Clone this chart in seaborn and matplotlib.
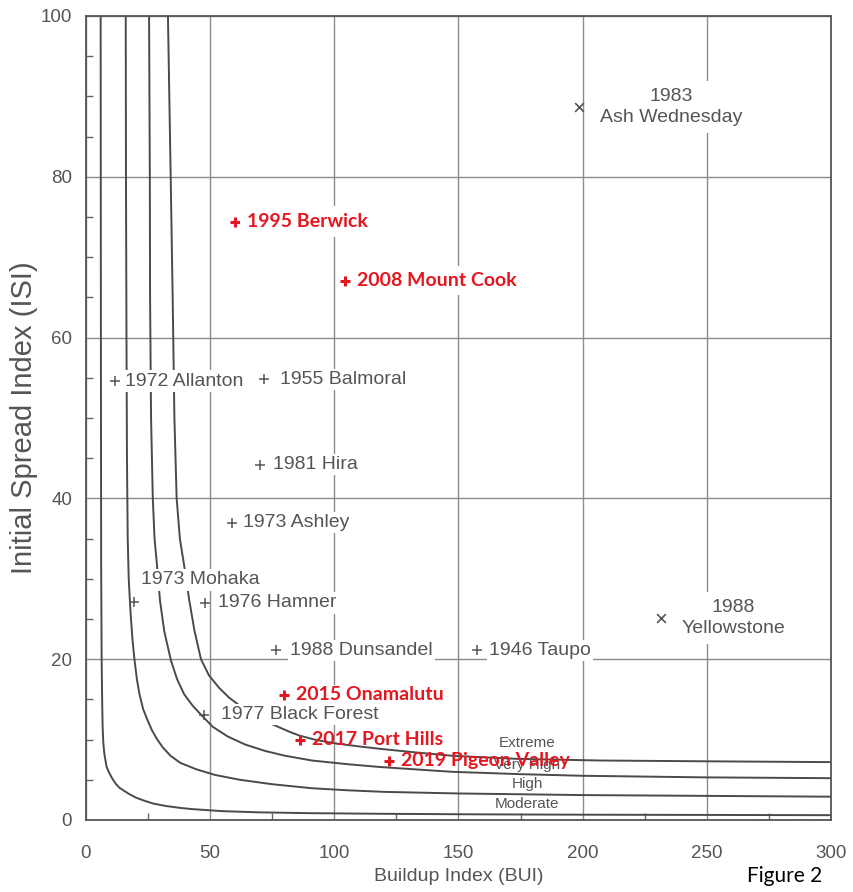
import numpy as np
import pandas as pd
import matplotlib
matplotlib.use("Agg")
import matplotlib.pyplot as plt
import seaborn as sns

# settings
sns.set_theme(style="white")
plt.rcParams['font.family'] = ['Liberation Sans', 'DejaVu Sans']

# class boundary curves
low_mod_bui = [5.9, 6.0, 6.1, 6.3, 6.5, 6.7, 7.0, 7.4, 8.3, 9.3, 10.5, 12.0, 13.5, 17.0, 20.0, 23.0,
               27.0, 32.0, 38.0, 43.0, 55.0, 70.0, 90.0, 120.0, 160.0, 200.0, 300.0]
low_mod_isi = [100.0, 60.0, 32.0, 20.0, 15.0, 11.5, 9.5, 8.2, 6.6, 5.9, 5.2, 4.5, 4.0, 3.3, 2.8, 2.45,
               2.05, 1.75, 1.5, 1.35, 1.1, 0.95, 0.85, 0.77, 0.7, 0.66, 0.6]

mod_high_bui = [16.0, 16.1, 16.3, 16.5, 16.8, 17.2, 17.9, 18.7, 19.5, 20.5, 21.5, 23.0, 24.8, 26.5,
                28.5, 31.0, 34.0, 38.0, 44.5, 52.0, 62.0, 75.0, 91.0, 105.0, 120.0, 150.0, 200.0,
                250.0, 300.0]
mod_high_isi = [100.0, 80.0, 60.0, 45.0, 35.0, 30.0, 26.0, 22.5, 20.0, 17.5, 15.7, 13.8, 12.4, 11.2,
                10.1, 9.0, 8.0, 7.1, 6.3, 5.6, 5.0, 4.45, 3.95, 3.7, 3.5, 3.3, 3.1, 3.0, 2.9]

high_vh_bui = [25.4, 25.7, 25.8, 26.2, 26.9, 27.6, 28.5, 29.8, 31.5, 34.2, 36.7, 39.6, 43.0, 46.3,
               51.0, 57.0, 64.0, 72.0, 80.0, 91.0, 105.0, 118.0, 147.0, 175.0, 200.0, 250.0, 300.0]
high_vh_isi = [100.0, 80.0, 65.0, 50.0, 40.0, 35.0, 32.0, 27.3, 23.5, 19.85, 17.5, 15.6, 14.2, 13.1,
               11.6, 10.4, 9.4, 8.6, 8.0, 7.4, 6.95, 6.6, 6.0, 5.7, 5.5, 5.3, 5.2]

vh_ext_bui = [33.0, 34.1, 34.9, 35.6, 36.5, 37.8, 39.6, 41.6, 43.7, 46.3, 49.5, 53.7, 57.7, 62.0,
              67.0, 73.0, 78.0, 82.5, 86.0, 92.0, 100.0, 110.0, 120.0, 133.0, 147.0, 160.0, 174.0,
              207.0, 250.0, 300.0]
vh_ext_isi = [100.0, 80.0, 65.0, 50.0, 40.0, 35.0, 31.5, 27.3, 23.5, 20.0, 18.0, 16.4, 15.2, 14.2,
              13.2, 12.2, 11.5, 10.9, 10.5, 10.0, 9.55, 9.15, 8.8, 8.4, 8.0, 7.8, 7.6, 7.4, 7.3, 7.2]

# historic fires
grey_names = ["1972 Allanton", "1955 Balmoral", "1981 Hira", "1973 Ashley", "1973 Mohaka",
              "1976 Hamner", "1988 Dunsandel", "1946 Taupo", "1977 Black Forest"]
grey_bui = [11.7, 71.8, 70.2, 58.9, 19.4, 48.0, 76.6, 157.3, 47.7]
grey_isi = [54.6, 54.8, 44.2, 37.0, 27.1, 27.0, 21.1, 21.1, 13.1]

cross_names = ["1983\nAsh Wednesday", "1988\nYellowstone"]
cross_bui = [198.6, 231.7]
cross_isi = [88.7, 25.1]

red_names = ["1995 Berwick", "2008 Mount Cook", "2015 Onamalutu", "2017 Port Hills", "2019 Pigeon Valley"]
red_bui = [60.0, 104.4, 79.8, 86.2, 122.2]
red_isi = [74.4, 67.1, 15.6, 10.0, 7.4]

class_names = ["Extreme", "Very High", "High", "Moderate"]

# long table for the curves
curves = pd.concat([
    pd.DataFrame({'BUI': low_mod_bui, 'ISI': low_mod_isi, 'curve': 'a'}),
    pd.DataFrame({'BUI': mod_high_bui, 'ISI': mod_high_isi, 'curve': 'b'}),
    pd.DataFrame({'BUI': high_vh_bui, 'ISI': high_vh_isi, 'curve': 'c'}),
    pd.DataFrame({'BUI': vh_ext_bui, 'ISI': vh_ext_isi, 'curve': 'd'}),
])

grey = '#555555'
red = '#e5161f'

fig = plt.figure(figsize=(8.54, 8.92), dpi=100)
fig.patch.set_facecolor('white')
ax = fig.add_axes([86 / 854, 1 - 820 / 892, (831 - 86) / 854, (820 - 16) / 892])

sns.lineplot(data=curves, x='BUI', y='ISI', units='curve', estimator=None, sort=False,
             color='#4a4a4a', linewidth=1.4, ax=ax, zorder=2)

ax.set_xlim(0, 300)
ax.set_ylim(0, 100)
ax.set_xticks(np.arange(0, 301, 50))
ax.set_yticks(np.arange(0, 101, 20))
ax.set_xticks(np.arange(0, 301, 25), minor=True)
ax.set_yticks(np.arange(0, 101, 5), minor=True)
ax.grid(True, which='major', color='#8c8c8c', linewidth=1.0, zorder=0)
ax.set_axisbelow(True)
ax.tick_params(which='major', length=0, labelsize=13.5, labelcolor=grey)
ax.tick_params(axis='x', which='major', pad=18)
ax.tick_params(axis='y', which='major', pad=10)
ax.tick_params(which='minor', direction='in', length=5, width=1, color='#666666',
               bottom=True, left=True, top=False, right=False)
for s in ax.spines.values():
    s.set_color('#555555')
    s.set_linewidth(1.3)

ax.set_xlabel("Buildup Index (BUI)", fontsize=14, color=grey, labelpad=4)
ax.set_ylabel("Initial Spread Index (ISI)", fontsize=21, color=grey, labelpad=2)

box = dict(facecolor='white', edgecolor='none', pad=1.5)

# grey plus markers and labels
sns.scatterplot(x=grey_bui, y=grey_isi, marker='+', s=55, color=grey, linewidth=1.1,
                ax=ax, zorder=5, legend=False)
grey_offsets = [(7, 0), (11, 0), (9, 0), (8, 0), (5, 16), (9, 0), (10, 0), (9, 0), (12, 0)]
for name, x, y, off in zip(grey_names, grey_bui, grey_isi, grey_offsets):
    ax.annotate(name, (x, y), xytext=off, textcoords='offset points', ha='left', va='center',
                fontsize=14, color=grey, bbox=box, zorder=4)

# crosses
sns.scatterplot(x=cross_bui, y=cross_isi, marker='x', s=40, color=grey, linewidth=1.2,
                ax=ax, zorder=5, legend=False)
cross_offsets = [(66, 0), (52, 0)]
for name, x, y, off in zip(cross_names, cross_bui, cross_isi, cross_offsets):
    ax.annotate(name, (x, y), xytext=off, textcoords='offset points', ha='center', va='center',
                fontsize=14, color=grey, linespacing=1.3,
                bbox=dict(facecolor='white', edgecolor='none', pad=5), zorder=4)

# class names
class_pos = [(177.7, 9.6), (177.7, 6.9), (177.7, 4.5), (177.7, 2.05)]
for name, (x, y) in zip(class_names, class_pos):
    ax.text(x, y, name, ha='center', va='center', fontsize=11, color=grey, zorder=3)

# recent fires in red
sns.scatterplot(x=red_bui, y=red_isi, marker='+', s=60, color=red, linewidth=2.2,
                ax=ax, zorder=6, legend=False)
red_boxes = [5, 4, 1, None, None]
for name, x, y, pad in zip(red_names, red_bui, red_isi, red_boxes):
    kw = {}
    if pad is not None:
        kw['bbox'] = dict(facecolor='white', edgecolor='none', pad=pad)
    ax.annotate(name, (x, y), xytext=(8.5, 0), textcoords='offset points', ha='left',
                va='center', fontsize=14, fontweight='bold', color=red,
                family=['Lato', 'DejaVu Sans'], zorder=6, **kw)

fig.text(0.919, 0.018, "Figure 2", ha='center', va='center', fontsize=15,
         color='black', family=['Lato', 'DejaVu Sans'])

plt.savefig("out.png", dpi=100, facecolor='white')
